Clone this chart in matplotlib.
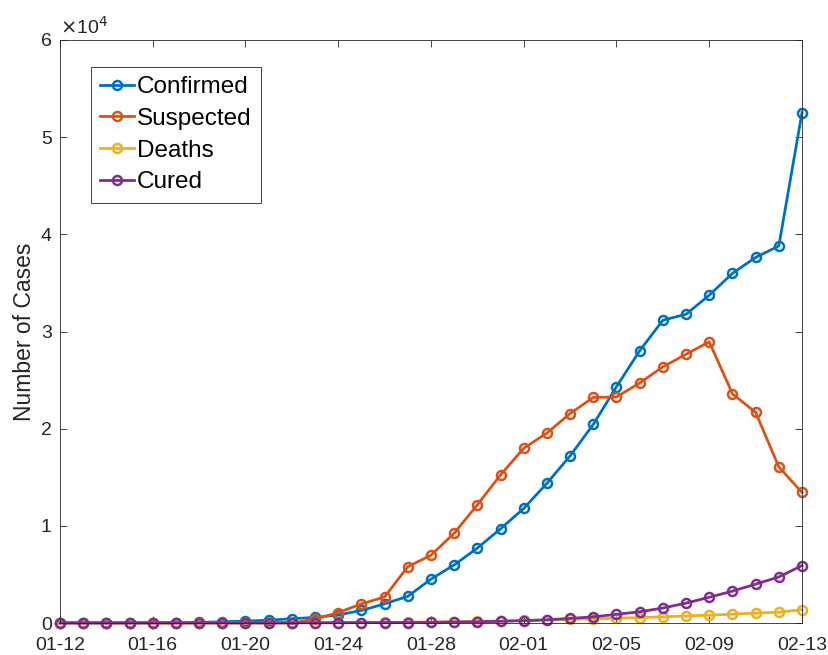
import numpy as np
import matplotlib
matplotlib.use('Agg')
import matplotlib.pyplot as plt
from matplotlib.ticker import FuncFormatter

plt.rcParams['font.family'] = ['Liberation Sans', 'DejaVu Sans']

# Data
dates = ['01-12', '01-13', '01-14', '01-15', '01-16', '01-17', '01-18', '01-19',
         '01-20', '01-21', '01-22', '01-23', '01-24', '01-25', '01-26', '01-27',
         '01-28', '01-29', '01-30', '01-31', '02-01', '02-02', '02-03', '02-04',
         '02-05', '02-06', '02-07', '02-08', '02-09', '02-10', '02-11', '02-12',
         '02-13']
confirmed = [41, 41, 41, 41, 41, 45, 62, 121, 198, 291, 440, 571, 830, 1287,
             1975, 2744, 4515, 5974, 7711, 9692, 11791, 14380, 17205, 20438,
             24324, 28018, 31161, 31774, 33738, 35982, 37626, 38800, 52526]
suspected = [0, 0, 0, 0, 0, 0, 0, 0, 0, 0, 0, 393, 1072, 1965, 2684, 5794,
             6973, 9239, 12167, 15238, 17988, 19544, 21558, 23214, 23260,
             24702, 26359, 27657, 28942, 23589, 21675, 16067, 13435]
deaths = [1, 1, 1, 2, 2, 2, 3, 3, 4, 6, 9, 17, 25, 41, 56, 80, 106, 132, 170,
          213, 259, 304, 361, 425, 490, 563, 636, 722, 811, 908, 1016, 1113, 1367]
cured = [0, 2, 6, 7, 12, 15, 19, 24, 25, 25, 25, 28, 34, 38, 49, 51, 60, 103,
         124, 171, 243, 328, 475, 632, 892, 1153, 1540, 2050, 2649, 3281, 3996,
         4740, 5911]

series = [('Confirmed', confirmed, '#0072BD'),
          ('Suspected', suspected, '#D95319'),
          ('Deaths', deaths, '#EDB120'),
          ('Cured', cured, '#7E2F8E')]

x = np.arange(len(dates))
axcol = '#262626'

fig = plt.figure(figsize=(8.29, 6.55), dpi=100)
ax = fig.add_axes([60/829, 1 - 623/655, 742/829, 583/655])

for name, vals, col in series:
    ax.plot(x, vals, '-o', color=col, lw=2, ms=6.5, mfc='none', mew=1.8,
            label=name, clip_on=False)

ax.set_xlim(0, len(dates) - 1)
ax.set_ylim(0, 60000)
ax.set_xticks(x[::4])
ax.set_xticklabels(dates[::4])
ax.set_yticks(np.arange(0, 60001, 10000))
ax.yaxis.set_major_formatter(FuncFormatter(lambda v, p: '%d' % round(v / 1e4)))
ax.tick_params(direction='in', length=5, width=0.6, colors=axcol,
               labelsize=14, top=True, right=True)
ax.tick_params(axis='x', pad=10)
ax.tick_params(axis='y', pad=6)
for s in ax.spines.values():
    s.set_color(axcol)
    s.set_linewidth(0.6)

ax.text(0.0, 1.003, r'$\times$10$^4$', transform=ax.transAxes, fontsize=14,
        color=axcol, ha='left', va='bottom')
ax.set_ylabel('Number of Cases', fontsize=16.5, color=axcol, labelpad=3)

leg = ax.legend(loc='upper left', bbox_to_anchor=(0.042, 0.954),
                borderaxespad=0, fontsize=17.5, handlelength=1.4,
                handletextpad=0.1, labelspacing=0.4, borderpad=0.38,
                fancybox=False, framealpha=1, edgecolor=axcol)
leg.get_frame().set_linewidth(0.6)

fig.savefig('out.png', dpi=100)
plt.close()
